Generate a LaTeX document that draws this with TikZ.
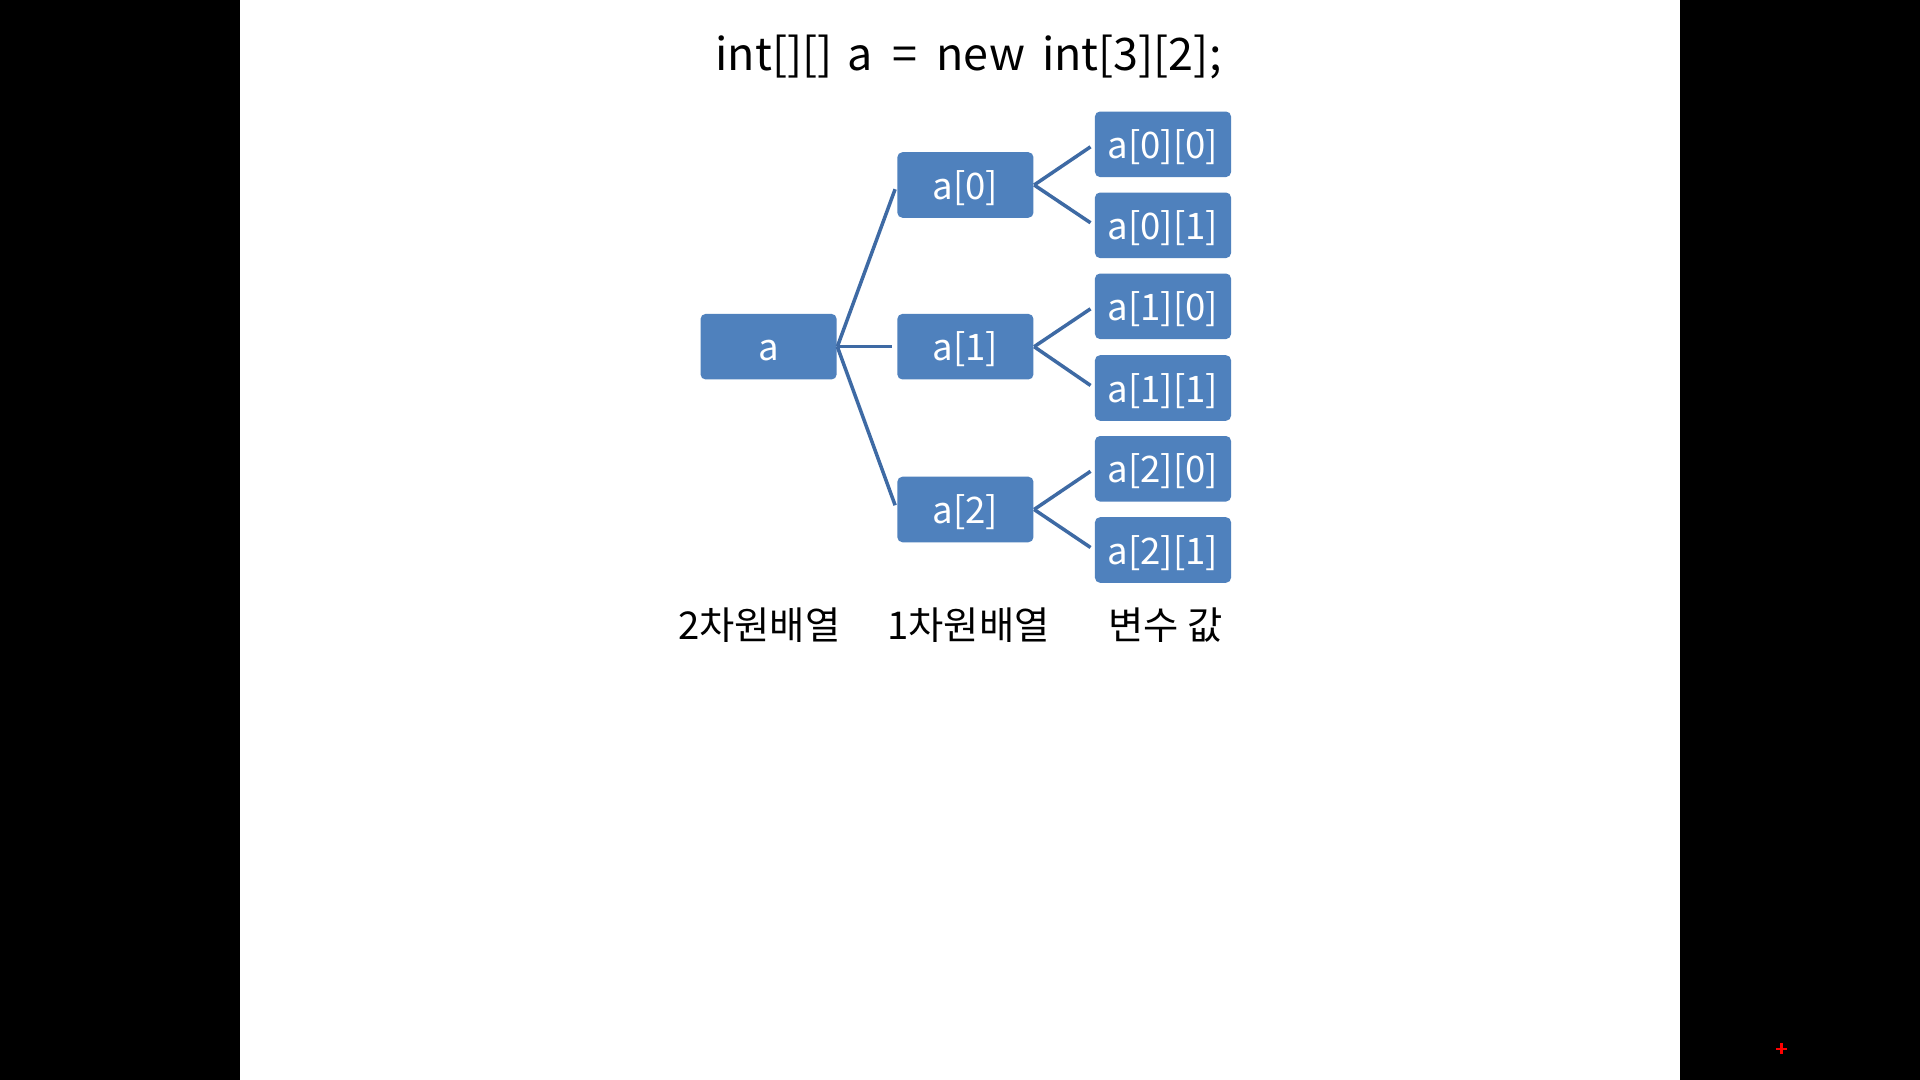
\documentclass[tikz,border=0pt]{standalone}
\usepackage{fontspec}
\setmainfont{Noto Sans CJK KR}
\definecolor{boxblue}{HTML}{4F81BD}
\definecolor{lineblue}{HTML}{3E6AA4}
\begin{document}
\begin{tikzpicture}[x=0.01cm,y=-0.01cm,
  box/.style={fill=boxblue, rounded corners=0.05cm, minimum width=1.36cm, minimum height=0.655cm,
              text=white, font=\fontsize{10.4}{12}\selectfont, inner sep=0pt,
              text height=9pt, text depth=1pt},
  link/.style={draw=lineblue, line width=0.035cm, shorten >=0.045cm},
  caption/.style={text=black, font=\fontsize{10.9}{13}\selectfont, inner sep=0pt}]
\fill[black] (0,0) rectangle (1920,1080);
\fill[white] (240,0) rectangle (1680,1080);
\useasboundingbox (0,0) rectangle (1920,1080);

\node[text=black, font=\fontsize{12.75}{15}\selectfont, inner sep=0pt] (title) at (968.5,57)
  {int[][]\hspace{0.32em}a\hspace{0.44em}=\hspace{0.44em}new\hspace{0.38em}int[3][2];};

\node[box] (a) at (768.6,346.7) {a};
\node[box] (a0) at (965.4,185) {a[0]};
\node[box] (a1) at (965.4,346.7) {a[1]};
\node[box] (a2) at (965.4,509.5) {a[2]};

\node[box] (a00) at (1163,144.3) {a[0][0]};
\node[box] (a01) at (1163,225.3) {a[0][1]};
\node[box] (a10) at (1163,306.3) {a[1][0]};
\node[box] (a11) at (1163,388) {a[1][1]};
\node[box] (a20) at (1163,468.8) {a[2][0]};
\node[box] (a21) at (1163,550) {a[2][1]};

\draw[link] (a.east) -- (a0.west);
\draw[link] (a.east) -- (a1.west);
\draw[link] (a.east) -- (a2.west);
\draw[link] (a0.east) -- (a00.west);
\draw[link] (a0.east) -- (a01.west);
\draw[link] (a1.east) -- (a10.west);
\draw[link] (a1.east) -- (a11.west);
\draw[link] (a2.east) -- (a20.west);
\draw[link] (a2.east) -- (a21.west);

\node[caption] (c2) at (759.2,625) {2차원배열};
\node[caption] (c1) at (968.6,625) {1차원배열};
\node[caption] (cv) at (1165.7,625) {변수 값};

\draw[red, line width=0.025cm] (1776,1049) -- (1787,1049);
\draw[red, line width=0.025cm] (1781.5,1043.5) -- (1781.5,1054.5);
\end{tikzpicture}
\end{document}
